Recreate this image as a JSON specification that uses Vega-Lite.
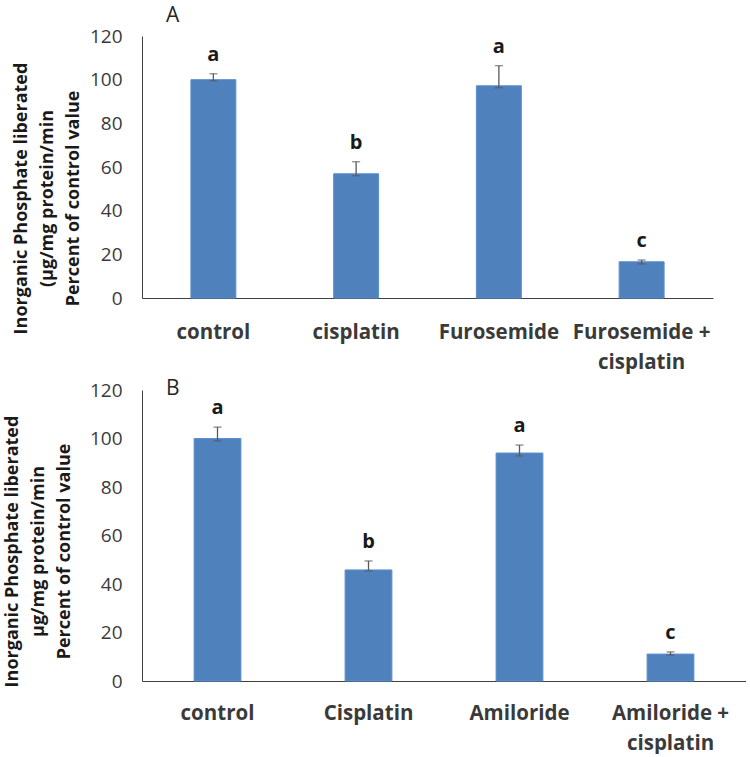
{
  "$schema": "https://vega.github.io/schema/vega-lite/v6.json",
  "padding": {"left": 3, "top": 5, "right": 0, "bottom": 0},
  "spacing": 5,
  "config": {
    "view": {"stroke": null},
    "font": "Open Sans",
    "axis": {"grid": false, "ticks": false, "domainColor": "#404040", "labelColor": "#3a3a3a", "labelFont": "Open Sans"},
    "title": {"font": "Open Sans", "fontWeight": "normal", "color": "#262626"}
  },
  "datasets": {
    "furo": [
      {"group": "control", "value": 100, "upper": 102.7, "lower": 99.5, "letter": "a"},
      {"group": "cisplatin", "value": 56.9, "upper": 62.4, "lower": 56.0, "letter": "b"},
      {"group": "Furosemide", "value": 97.2, "upper": 106.4, "lower": 96.3, "letter": "a"},
      {"group": "Furosemide + cisplatin", "value": 16.6, "upper": 17.4, "lower": 15.6, "letter": "c"}
    ],
    "amil": [
      {"group": "control", "value": 100, "upper": 104.7, "lower": 99.0, "letter": "a"},
      {"group": "Cisplatin", "value": 45.8, "upper": 49.5, "lower": 45.4, "letter": "b"},
      {"group": "Amiloride", "value": 94.0, "upper": 97.3, "lower": 92.8, "letter": "a"},
      {"group": "Amiloride + cisplatin", "value": 11.1, "upper": 12.0, "lower": 10.7, "letter": "c"}
    ]
  },
  "vconcat": [
    {
      "width": 571,
      "height": 262,
      "title": {"text": "A", "anchor": "start", "frame": "group", "fontSize": 21, "dx": 24, "offset": 1},
      "data": {"name": "furo"},
      "encoding": {
        "x": {
          "field": "group", "type": "nominal", "sort": null,
          "scale": {"paddingInner": 0.685, "paddingOuter": 0.3425},
          "axis": {
            "title": null, "labelAngle": 0, "labelFontSize": 20.5, "labelFontWeight": "bold",
            "labelPadding": 24, "labelLineHeight": 30, "labelBaseline": "top",
            "labelExpr": "indexof(datum.label, ' + ') > 0 ? [slice(datum.label, 0, indexof(datum.label, ' + ') + 2), slice(datum.label, indexof(datum.label, ' + ') + 3)] : datum.label"
          }
        }
      },
      "layer": [
        {
          "mark": {"type": "bar", "color": "#4f81bd", "stroke": "#5b8fd0", "strokeWidth": 1},
          "encoding": {
            "y": {
              "field": "value", "type": "quantitative",
              "scale": {"domain": [0, 120]},
              "axis": {
                "values": [0, 20, 40, 60, 80, 100, 120],
                "labelFontSize": 19, "labelPadding": 20,
                "title": ["Inorganic Phosphate liberated", "(µg/mg protein/min", "Percent of control value"],
                "titleFontSize": 18, "titleFontWeight": "bold", "titleColor": "#1a1a1a",
                "titleLineHeight": 26, "titlePadding": 7, "titleY": 162
              }
            }
          }
        },
        {
          "mark": {"type": "rule", "color": "#595959", "strokeWidth": 1.3},
          "encoding": {"y": {"field": "lower", "type": "quantitative"}, "y2": {"field": "upper"}}
        },
        {
          "mark": {"type": "tick", "color": "#595959", "size": 8, "thickness": 1.3},
          "encoding": {"y": {"field": "upper", "type": "quantitative"}}
        },
        {
          "mark": {"type": "tick", "color": "#595959", "size": 8, "thickness": 1.3},
          "encoding": {"y": {"field": "lower", "type": "quantitative"}}
        },
        {
          "mark": {"type": "text", "fontSize": 20, "fontWeight": "bold", "color": "#1a1a1a", "baseline": "middle", "dy": -19},
          "encoding": {"y": {"field": "upper", "type": "quantitative"}, "text": {"field": "letter"}}
        }
      ]
    },
    {
      "width": 604,
      "height": 291,
      "title": {"text": "B", "anchor": "start", "frame": "group", "fontSize": 21, "dx": 24, "offset": -18},
      "data": {"name": "amil"},
      "encoding": {
        "x": {
          "field": "group", "type": "nominal", "sort": null,
          "scale": {"paddingInner": 0.69, "paddingOuter": 0.345},
          "axis": {
            "title": null, "labelAngle": 0, "labelFontSize": 20.5, "labelFontWeight": "bold",
            "labelPadding": 22, "labelLineHeight": 30, "labelBaseline": "top",
            "labelExpr": "indexof(datum.label, ' + ') > 0 ? [slice(datum.label, 0, indexof(datum.label, ' + ') + 2), slice(datum.label, indexof(datum.label, ' + ') + 3)] : datum.label"
          }
        }
      },
      "layer": [
        {
          "mark": {"type": "bar", "color": "#4f81bd", "stroke": "#5b8fd0", "strokeWidth": 1},
          "encoding": {
            "y": {
              "field": "value", "type": "quantitative",
              "scale": {"domain": [0, 120]},
              "axis": {
                "values": [0, 20, 40, 60, 80, 100, 120],
                "labelFontSize": 19, "labelPadding": 20,
                "title": ["Inorganic Phosphate liberated", "µg/mg protein/min", "Percent of control value"],
                "titleFontSize": 18, "titleFontWeight": "bold", "titleColor": "#1a1a1a",
                "titleLineHeight": 26, "titlePadding": 16, "titleY": 161
              }
            }
          }
        },
        {
          "mark": {"type": "rule", "color": "#595959", "strokeWidth": 1.3},
          "encoding": {"y": {"field": "lower", "type": "quantitative"}, "y2": {"field": "upper"}}
        },
        {
          "mark": {"type": "tick", "color": "#595959", "size": 8, "thickness": 1.3},
          "encoding": {"y": {"field": "upper", "type": "quantitative"}}
        },
        {
          "mark": {"type": "tick", "color": "#595959", "size": 8, "thickness": 1.3},
          "encoding": {"y": {"field": "lower", "type": "quantitative"}}
        },
        {
          "mark": {"type": "text", "fontSize": 20, "fontWeight": "bold", "color": "#1a1a1a", "baseline": "middle", "dy": -19},
          "encoding": {"y": {"field": "upper", "type": "quantitative"}, "text": {"field": "letter"}}
        }
      ]
    }
  ]
}
